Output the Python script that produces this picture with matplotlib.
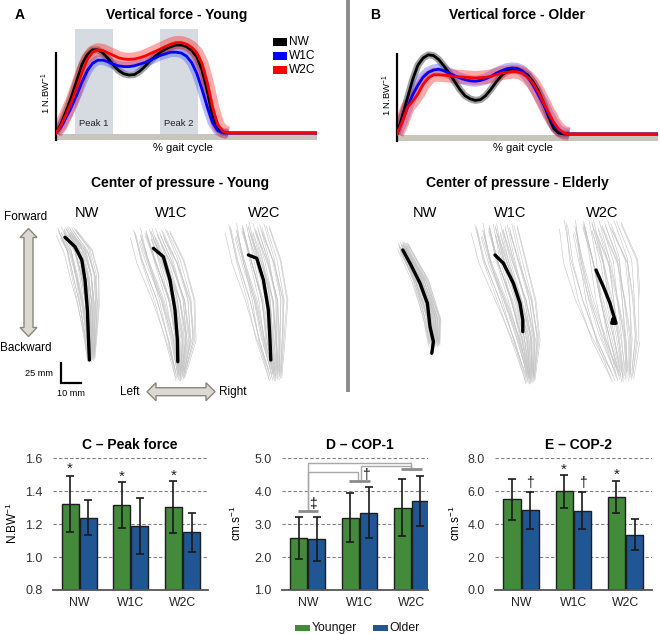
import matplotlib
matplotlib.use('Agg')
import matplotlib.pyplot as plt
import matplotlib.patches as mpatches
import numpy as np

plt.rcParams['font.family'] = ['Liberation Sans', 'DejaVu Sans']
plt.rcParams['mathtext.fontset'] = 'custom'
plt.rcParams['mathtext.rm'] = 'Liberation Sans'
plt.rcParams['mathtext.it'] = 'Liberation Sans:italic'
plt.rcParams['mathtext.bf'] = 'Liberation Sans:bold'

# ---------------- data ----------------
conditions = ['NW', 'W1C', 'W2C']
groups = ['Younger', 'Older']

# vertical force curves (N/BW, % gait cycle)
gait_x = [0, 2, 4, 6, 8, 10, 12, 14, 16, 18, 20, 22, 24, 26, 28, 30, 32, 34, 36, 38,
          40, 42, 44, 46, 48, 50, 52, 54, 56, 58, 60, 62, 64, 66, 100]
young_nw = [0.00, 0.12, 0.28, 0.46, 0.66, 0.86, 0.98, 1.04, 1.04, 1.00, 0.93, 0.85, 0.78, 0.74, 0.725,
            0.73, 0.77, 0.83, 0.90, 0.96, 1.01, 1.05, 1.08, 1.10, 1.10, 1.08, 1.03, 0.95, 0.78, 0.52,
            0.20, 0.05, 0.01, 0.00, 0.00]
young_w1c = [0.00, 0.08, 0.20, 0.33, 0.48, 0.64, 0.78, 0.87, 0.91, 0.91, 0.89, 0.86, 0.84, 0.83, 0.83,
             0.84, 0.86, 0.88, 0.91, 0.94, 0.97, 0.99, 1.01, 1.01, 1.00, 0.96, 0.88, 0.74, 0.54, 0.32,
             0.13, 0.03, 0.00, 0.00, 0.00]
young_w2c = [0.00, 0.10, 0.24, 0.39, 0.57, 0.76, 0.92, 1.01, 1.04, 1.03, 1.00, 0.97, 0.94, 0.925, 0.92,
             0.925, 0.94, 0.96, 0.99, 1.02, 1.05, 1.08, 1.11, 1.13, 1.13, 1.11, 1.07, 1.00, 0.86, 0.62,
             0.32, 0.10, 0.02, 0.00, 0.00]
older_nw = [0.00, 0.22, 0.45, 0.68, 0.86, 0.95, 0.99, 0.98, 0.93, 0.85, 0.76, 0.66, 0.56, 0.48, 0.44,
            0.42, 0.43, 0.48, 0.56, 0.65, 0.73, 0.78, 0.80, 0.80, 0.78, 0.74, 0.66, 0.55, 0.40, 0.22,
            0.07, 0.01, 0.00, 0.00, 0.00]
older_w1c = [0.00, 0.16, 0.33, 0.49, 0.61, 0.71, 0.77, 0.80, 0.81, 0.79, 0.76, 0.73, 0.70, 0.68, 0.665,
             0.66, 0.67, 0.69, 0.72, 0.76, 0.79, 0.815, 0.825, 0.82, 0.79, 0.72, 0.62, 0.50, 0.38, 0.25,
             0.13, 0.04, 0.01, 0.00, 0.00]
older_w2c = [0.00, 0.15, 0.33, 0.41, 0.50, 0.62, 0.70, 0.74, 0.74, 0.735, 0.73, 0.72, 0.715, 0.71, 0.705,
             0.70, 0.705, 0.71, 0.72, 0.74, 0.76, 0.77, 0.78, 0.78, 0.76, 0.71, 0.64, 0.53, 0.40, 0.27,
             0.15, 0.06, 0.01, 0.00, 0.00]
peak_windows = [(7.3, 21.8), (39.8, 54.4)]
peak_labels = ['Peak 1', 'Peak 2']
curve_colors = ['#000000', '#0000ff', '#ff0000']
band_colors = ['#444444', '#3344ff', '#ff3030']
band_alpha = [0.5, 0.35, 0.42]
young_band_pt = [5, 7, 9.5]
older_band_pt = [5, 8, 10]

# centre-of-pressure trajectories (mm): mean path + cloud of individual trials
ynw_mx = [12.5, 17.5, 20.9, 22.5, 23.7, 24.2, 24.7]
ynw_my = [190.9, 179.1, 162.5, 137.5, 100.0, 66.6, 37.5]
ynw_cx = [13.0, 19.0, 22.0, 24.0, 25.0, 25.5]
ynw_cy = [200.0, 175.0, 143.8, 106.3, 68.8, 40.0]
ynw_hw = [4.5, 6.5, 7.0, 5.5, 3.5, 2.0]

yw1_mx = [14.2, 19.2, 22.5, 25.0, 26.2, 26.4]
yw1_my = [177.1, 166.6, 137.5, 100.0, 62.5, 35.4]
yw1_cx = [12.5, 17.5, 24.0, 27.5, 27.5]
yw1_cy = [197.5, 162.5, 112.5, 62.5, 16.3]
yw1_hw = [9.0, 11.0, 10.5, 8.0, 2.5]

yw2_mx = [19.2, 23.4, 26.7, 29.2, 30.0, 30.4]
yw2_my = [168.8, 164.6, 137.5, 100.0, 62.5, 37.5]
yw2_cx = [18.5, 23.0, 28.0, 30.0, 32.5]
yw2_cy = [203.8, 162.5, 112.5, 62.5, 16.3]
yw2_hw = [10.0, 11.5, 10.5, 7.5, 3.5]

enw_mx = [11.4, 15.0, 20.0, 23.7, 25.0, 26.7, 25.9]
enw_my = [175.0, 158.4, 133.4, 108.4, 79.1, 60.4, 45.9]
enw_cx = [11.5, 20.0, 26.0, 27.0]
enw_cy = [181.3, 137.5, 87.5, 56.3]
enw_hw = [2.5, 4.0, 4.5, 3.0]

ew1_mx = [15.0, 19.2, 24.2, 27.5, 28.9, 28.9]
ew1_my = [168.8, 158.4, 133.4, 108.4, 87.5, 72.9]
ew1_cx = [14.5, 18.5, 25.0, 30.0, 32.5]
ew1_cy = [203.8, 162.5, 112.5, 62.5, 12.5]
ew1_hw = [10.5, 11.0, 10.0, 7.5, 2.5]

ew2_mx = [23.0, 26.7, 30.0, 32.0, 33.0, 30.9, 31.4]
ew2_my = [150.0, 129.1, 108.4, 91.6, 83.4, 83.4, 88.8]
ew2_cx = [20.0, 25.0, 28.5, 32.5, 36.0]
ew2_cy = [208.8, 162.5, 112.5, 62.5, 15.0]
ew2_hw = [14.0, 17.5, 16.0, 12.5, 6.0]

# individual-trial pattern (lateral position in cloud, length factor, top fan)
trial_pos = [-0.95, -0.88, -0.8, -0.73, -0.66, -0.6, -0.53, -0.47, -0.41, -0.35, -0.3, -0.24, -0.19,
             -0.13, -0.08, -0.03, 0.02, 0.07, 0.12, 0.17, 0.22, 0.27, 0.32, 0.37, 0.42, 0.47, 0.52,
             0.57, 0.62, 0.67, 0.72, 0.77, 0.82, 0.87, 0.92, 0.97, -0.5, 0.1, 0.45, -0.2]
trial_len = [1.0, 0.92, 1.05, 0.97, 0.9, 1.03, 0.95, 1.0, 0.88, 1.04, 0.96, 0.93, 1.02, 0.9, 0.98,
             1.05, 0.94, 0.99, 0.91, 1.01, 0.97, 0.89, 1.03, 0.93, 1.0, 0.87, 0.96, 1.04, 0.92, 0.99,
             0.95, 1.02, 0.9, 0.98, 0.94, 1.01, 0.86, 1.05, 0.91, 0.97]
trial_fan = [0.3, -0.6, 0.8, -0.2, 0.5, -0.9, 0.1, 0.7, -0.4, 0.9, -0.7, 0.2, -0.1, 0.6, -0.5,
             0.4, -0.8, 0.0, 0.5, -0.3, 0.6, -0.6, 0.9, -0.2, 0.3, -0.7, 0.1, 0.8, -0.4, 0.2,
             -0.9, 0.5, -0.1, 0.7, -0.5, 0.4, -0.3, 0.6, -0.8, 0.0]
scale_bar_mm = (10, 25)

# bar charts
peak_young = [1.32, 1.315, 1.305]
peak_young_sd = [0.17, 0.14, 0.16]
peak_older = [1.24, 1.19, 1.15]
peak_older_sd = [0.105, 0.17, 0.12]
cop1_young = [2.58, 3.20, 3.50]
cop1_young_sd = [0.63, 0.75, 0.87]
cop1_older = [2.55, 3.35, 3.70]
cop1_older_sd = [0.68, 0.78, 0.75]
cop2_young = [5.50, 6.00, 5.65]
cop2_young_sd = [1.27, 1.00, 0.97]
cop2_older = [4.85, 4.82, 3.35]
cop2_older_sd = [1.13, 1.13, 0.95]
# significance marks
peak_star_y = [1.535, 1.49, 1.495]
cop1_group_lines = [3.40, 4.31, 4.67]
cop1_brackets = [(0, 2, 4.85), (0, 1, 4.59), (1, 2, 4.77)]
cop2_star_young = [(1, 7.3), (2, 7.0)]
cop2_dagger_older = [(0, 6.5), (1, 6.5)]

GREEN = '#438a3a'
BLUE = '#205694'

# ---------------- figure ----------------
W, H = 660, 634
fig = plt.figure(figsize=(6.6, 6.34), dpi=100)


def ax_px(l, t, r, b):
    return fig.add_axes([l / W, 1 - b / H, (r - l) / W, (b - t) / H])


def force_panel(ax, series, bands, shade):
    ax.set_xlim(0, 100)
    ax.set_ylim(-0.0875, 1.4125)
    if shade:
        for (lo, hi), lab in zip(peak_windows, peak_labels):
            ax.fill_between([lo, hi], -0.025, 1.3, color='#d5dbe1', lw=0, zorder=0)
            ax.text((lo + hi) / 2, 0.125, lab, ha='center', va='center', fontsize=6.8,
                    color='#222222', zorder=1)
    ax.fill_between([0, 100], -0.0875, -0.018, color='#c8c5bd', lw=0, zorder=1)
    gx = np.array(gait_x)
    stance = gx <= 66
    for y, col, bcol, ba, bw in zip(series, curve_colors, band_colors, band_alpha, bands):
        y = np.array(y)
        ax.plot(gx[stance], y[stance], color=bcol, alpha=ba, lw=bw,
                solid_capstyle='butt', solid_joinstyle='round', zorder=2)
        ax.plot(gx, y, color=col, lw=2.0, solid_joinstyle='round', zorder=3)
    for s in ['top', 'right', 'bottom']:
        ax.spines[s].set_visible(False)
    ax.spines['left'].set_bounds(-0.0875, 1.0)
    ax.spines['left'].set_linewidth(1.6)
    ax.set_xticks([])
    ax.set_yticks([])
    ax.patch.set_visible(False)


axA = ax_px(56, 20, 317, 140)
force_panel(axA, [young_nw, young_w1c, young_w2c], young_band_pt, True)
axB = ax_px(397, 21, 658, 141)
force_panel(axB, [older_nw, older_w1c, older_w2c], older_band_pt, False)


def cop_panel(left, mx, my, cx, cy, hw):
    ax = ax_px(left, 220, left + 90, 390)
    ax.set_xlim(0, 45)
    ax.set_ylim(0, 212.5)
    ax.axis('off')
    cx = np.array(cx); cy = np.array(cy); hw = np.array(hw)
    frac = (cy - cy[-1]) / (cy[0] - cy[-1])
    cmid = cy.mean()
    for p, s, f in zip(trial_pos, trial_len, trial_fan):
        tx = cx + (p + 0.35 * f * frac) * hw
        ty = cmid + (cy - cmid) * s
        ax.plot(tx, ty, color='#c4c4c4', lw=0.4, zorder=1, solid_joinstyle='round')
    ax.plot(mx, my, color='black', lw=2.4, solid_capstyle='round',
            solid_joinstyle='round', zorder=3)
    return ax


axc = cop_panel(40, ynw_mx, ynw_my, ynw_cx, ynw_cy, ynw_hw)
# scale bar in mm
axc.plot([10.5, 10.5, 10.5 + scale_bar_mm[0]], [8.4 + scale_bar_mm[1], 8.4, 8.4],
         color='black', lw=1.6, clip_on=False, solid_joinstyle='miter')
cop_panel(125, yw1_mx, yw1_my, yw1_cx, yw1_cy, yw1_hw)
cop_panel(210, yw2_mx, yw2_my, yw2_cx, yw2_cy, yw2_hw)
cop_panel(380, enw_mx, enw_my, enw_cx, enw_cy, enw_hw)
cop_panel(465, ew1_mx, ew1_my, ew1_cx, ew1_cy, ew1_hw)
cop_panel(550, ew2_mx, ew2_my, ew2_cx, ew2_cy, ew2_hw)


def bar_panel(ax, young, ysd, older, osd, ylim, yticks, xlim):
    x = np.arange(len(conditions))
    bw, off = 0.33, 0.175
    ek = dict(ecolor='#1a1a1a', elinewidth=1.2, capthick=1.2)
    ax.bar(x - off, young, bw, color=GREEN, edgecolor='#1e1e1e', lw=1.0,
           yerr=ysd, capsize=3, error_kw=ek, zorder=3)
    ax.bar(x + off, older, bw, color=BLUE, edgecolor='#1e1e1e', lw=1.0,
           yerr=osd, capsize=3, error_kw=ek, zorder=3)
    ax.set_ylim(*ylim)
    ax.set_xlim(*xlim)
    ax.set_yticks(yticks)
    ax.set_yticklabels([f'{v:.1f}' for v in yticks])
    ax.set_xticks(x)
    ax.set_xticklabels(conditions)
    ax.tick_params(axis='y', length=0, labelsize=9, colors='#333333', pad=7.5)
    ax.tick_params(axis='x', length=0, labelsize=8.8, colors='#222222', pad=5)
    for v in yticks[1:]:
        ax.axhline(v, ls=(0, (3, 2)), color='#808080', lw=0.8, zorder=1)
    for s in ['top', 'right', 'left']:
        ax.spines[s].set_visible(False)
    ax.spines['bottom'].set_color('#555555')
    ax.spines['bottom'].set_linewidth(1.3)
    ax.spines['bottom'].set_zorder(4)
    ax.patch.set_visible(False)


axC = ax_px(53.3, 458.3, 208.3, 590)
bar_panel(axC, peak_young, peak_young_sd, peak_older, peak_older_sd,
          (0.8, 1.6), [0.8, 1.0, 1.2, 1.4, 1.6], (-0.5, 2.5))
for i, yv in enumerate(peak_star_y):
    axC.text(i - 0.175, yv, '*', ha='center', va='center', fontsize=11, color='#222222')

axD = ax_px(282, 458.3, 428.3, 590)
bar_panel(axD, cop1_young, cop1_young_sd, cop1_older, cop1_older_sd,
          (1.0, 5.0), [1.0, 2.0, 3.0, 4.0, 5.0], (-0.5, 2.33))
for i, yv in enumerate(cop1_group_lines):
    axD.plot([i - 0.2, i + 0.2], [yv, yv], color='#8c8c8c', lw=2.0, zorder=5,
             solid_capstyle='butt')
for a, b, h in cop1_brackets:
    xa = a + (0.03 if (a == 1) else 0.0)
    xb = b - (0.03 if (b == 1) else 0.0)
    axD.plot([xa, xa, xb, xb], [cop1_group_lines[a], h, h, cop1_group_lines[b]],
             color='#a8a8a8', lw=1.0, zorder=4)
axD.text(0.1, 3.62, '\u2021', ha='center', va='center', fontsize=10, color='#111111')
axD.text(1.13, 4.5, '\u2020', ha='center', va='center', fontsize=10, color='#111111')

axE = ax_px(495, 458.3, 651.7, 590)
bar_panel(axE, cop2_young, cop2_young_sd, cop2_older, cop2_older_sd,
          (0.0, 8.0), [0.0, 2.0, 4.0, 6.0, 8.0], (-0.5, 2.5))
for i, yv in cop2_star_young:
    axE.text(i - 0.175, yv, '*', ha='center', va='center', fontsize=11, color='#222222')
for i, yv in cop2_dagger_older:
    axE.text(i + 0.175, yv, '\u2020', ha='center', va='center', fontsize=10, color='#111111')

# ---------------- overlay (text & decorations, pixel coordinates) ----------------
ov = fig.add_axes([0, 0, 1, 1])
ov.set_xlim(0, W)
ov.set_ylim(H, 0)
ov.axis('off')

ov.plot([348, 348], [0, 392], color='#8c8c8c', lw=2.8, solid_capstyle='butt')

ov.text(20, 15, 'A', fontsize=10, fontweight='bold', ha='center', va='center')
ov.text(375, 15, 'B', fontsize=10, fontweight='bold', ha='center', va='center')
ov.text(177, 15, 'Vertical force - Young', fontsize=10, fontweight='bold', ha='center', va='center')
ov.text(517, 15, 'Vertical force - Older', fontsize=10, fontweight='bold', ha='center', va='center')
ov.text(183, 148, '% gait cycle', fontsize=8, ha='center', va='center')
ov.text(523, 148, '% gait cycle', fontsize=8, ha='center', va='center')
ov.text(46.5, 93, '1 N.BW$^{-1}$', fontsize=6.8, rotation=90, ha='center', va='center')
ov.text(387.5, 95, '1 N.BW$^{-1}$', fontsize=6.8, rotation=90, ha='center', va='center')

# legend of panel A
for k, (lab, col) in enumerate(zip(conditions, curve_colors)):
    yc = 42 + k * 13.8
    ov.add_patch(mpatches.Rectangle((273, yc - 4), 14, 8, color=col, lw=0))
    ov.text(289, yc, lab, fontsize=8.6, ha='left', va='center')

ov.text(180, 183, 'Center of pressure - Young', fontsize=10, fontweight='bold', ha='center', va='center')
ov.text(517, 183, 'Center of pressure - Elderly', fontsize=10, fontweight='bold', ha='center', va='center')
for xc, lab in zip([87, 171, 264], conditions):
    ov.text(xc, 213, lab, fontsize=10.5, ha='center', va='center')
for xc, lab in zip([424.5, 510, 602], conditions):
    ov.text(xc, 213, lab, fontsize=10.5, ha='center', va='center')

ov.text(26, 217, 'Forward', fontsize=8.5, ha='center', va='center')
ov.text(26, 348, 'Backward', fontsize=8.5, ha='center', va='center')
ov.text(39, 374, '25 mm', fontsize=6.6, ha='center', va='center')
ov.text(71, 393, '10 mm', fontsize=6.6, ha='center', va='center')
ov.text(130, 392, 'Left', fontsize=8.5, ha='center', va='center')
ov.text(219, 392, 'Right', fontsize=8.5, ha='left', va='center')


def double_arrow_v(cx, top, bot, hw=8.5, hl=9, bw=4.5):
    pts = [(cx, top), (cx + hw, top + hl), (cx + bw, top + hl), (cx + bw, bot - hl),
           (cx + hw, bot - hl), (cx, bot), (cx - hw, bot - hl), (cx - bw, bot - hl),
           (cx - bw, top + hl), (cx - hw, top + hl)]
    ov.add_patch(mpatches.Polygon(pts, closed=True, fc='#dcd9d2', ec='#8a8680', lw=1.0))


def double_arrow_h(cy, lft, rgt, hw=9, hl=9, bw=4):
    pts = [(lft, cy), (lft + hl, cy - hw), (lft + hl, cy - bw), (rgt - hl, cy - bw),
           (rgt - hl, cy - hw), (rgt, cy), (rgt - hl, cy + hw), (rgt - hl, cy + bw),
           (lft + hl, cy + bw), (lft + hl, cy + hw)]
    ov.add_patch(mpatches.Polygon(pts, closed=True, fc='#dcd9d2', ec='#8a8680', lw=1.0))


double_arrow_v(28.5, 228.5, 336.5)
double_arrow_h(391.7, 147, 215)

# bar chart titles and y labels
ov.text(130, 445, 'C \u2013 Peak force', fontsize=10, fontweight='bold', ha='center', va='center')
ov.text(360, 445, 'D \u2013 COP-1', fontsize=10, fontweight='bold', ha='center', va='center')
ov.text(578, 445, 'E \u2013 COP-2', fontsize=10, fontweight='bold', ha='center', va='center')
ov.text(12, 523, 'N.BW$^{-1}$', fontsize=8.5, rotation=90, ha='center', va='center')
ov.text(236, 523, 'cm.s$^{-1}$', fontsize=8.5, rotation=90, ha='center', va='center')
ov.text(455, 523, 'cm.s$^{-1}$', fontsize=8.5, rotation=90, ha='center', va='center')

# bottom legend
for (x0, lab, col) in [(295, groups[0], GREEN), (373, groups[1], BLUE)]:
    ov.add_patch(mpatches.Rectangle((x0, 624.5), 15, 6.5, color=col, lw=0))
    ov.text(x0 + 16.5, 627.7, lab, fontsize=8.8, ha='left', va='center', color='#111111')

fig.savefig('out.png', dpi=100)
